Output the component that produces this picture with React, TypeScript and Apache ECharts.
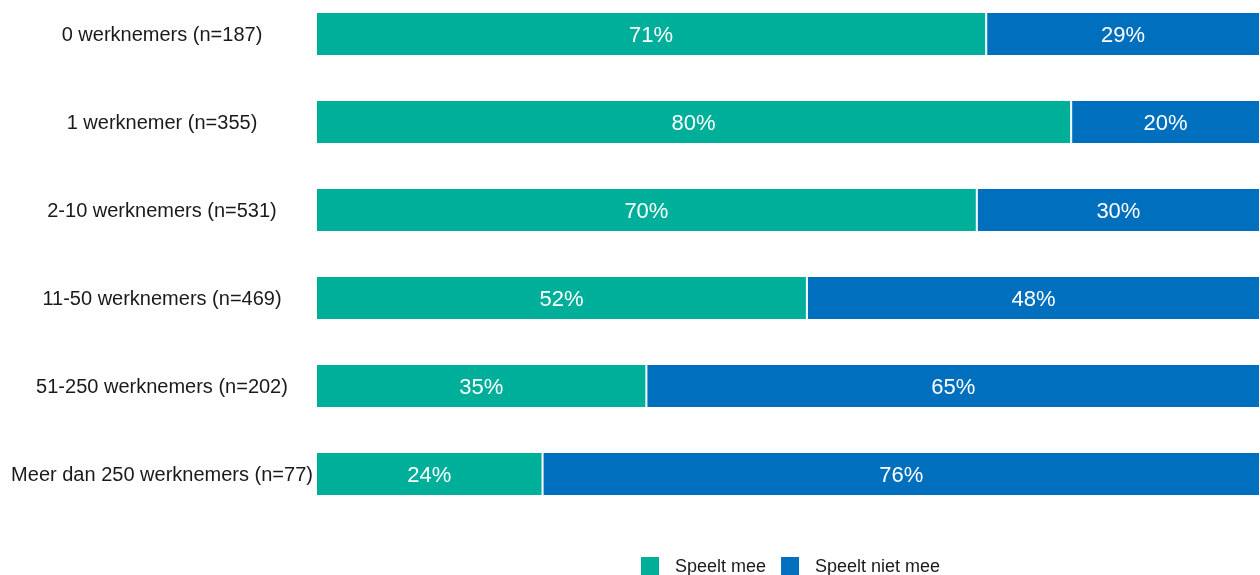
import React, { useEffect, useRef } from "react";
import * as echarts from "echarts";

const categories = [
  "0 werknemers (n=187)",
  "1 werknemer (n=355)",
  "2-10 werknemers (n=531)",
  "11-50 werknemers (n=469)",
  "51-250 werknemers (n=202)",
  "Meer dan 250 werknemers (n=77)",
];
const speeltMee = [71, 80, 70, 52, 35, 24];
const speeltNietMee = [29, 20, 30, 48, 65, 76];
const seriesNames = ["Speelt mee", "Speelt niet mee"];

export default function App() {
  const ref = useRef<HTMLDivElement>(null);
  useEffect(() => {
    if (!ref.current) return;
    const chart = echarts.init(ref.current, null, { renderer: "svg" });
    const font = "Liberation Sans, Arial, sans-serif";
    const label = {
      show: true,
      position: "inside",
      color: "#ffffff",
      fontSize: 22,
      fontFamily: font,
      formatter: (p: any) => p.value + "%",
    };
    chart.setOption({
      animation: false,
      textStyle: { fontFamily: font },
      grid: { left: 316, right: 0, top: 0, height: 528, containLabel: false },
      xAxis: { type: "value", min: 0, max: 100, show: false },
      yAxis: {
        type: "category",
        inverse: true,
        data: categories,
        axisLine: { show: false },
        axisTick: { show: false },
        splitLine: { show: false },
        axisLabel: {
          align: "center",
          margin: 154,
          color: "#1a1a1a",
          fontSize: 20,
          fontFamily: font,
        },
      },
      legend: {
        left: 634,
        top: 560,
        padding: 5,
        itemWidth: 20,
        itemHeight: 20,
        itemGap: 13,
        icon: "rect",
        textStyle: { fontSize: 18, color: "#1a1a1a", fontFamily: font, padding: [0, 0, 0, 10] },
        data: seriesNames,
      },
      series: [
        {
          name: seriesNames[0],
          type: "bar",
          stack: "total",
          barWidth: 44,
          data: speeltMee,
          itemStyle: { color: "#00AF9A", borderColor: "#ffffff", borderWidth: 1 },
          label,
        },
        {
          name: seriesNames[1],
          type: "bar",
          stack: "total",
          barWidth: 44,
          data: speeltNietMee,
          itemStyle: { color: "#0070BE", borderColor: "#ffffff", borderWidth: 1 },
          label,
        },
      ],
    });
    return () => chart.dispose();
  }, []);
  return (
    <div
      ref={ref}
      style={{ position: "fixed", left: 0, top: -10, width: 1260, height: 595 }}
    />
  );
}
